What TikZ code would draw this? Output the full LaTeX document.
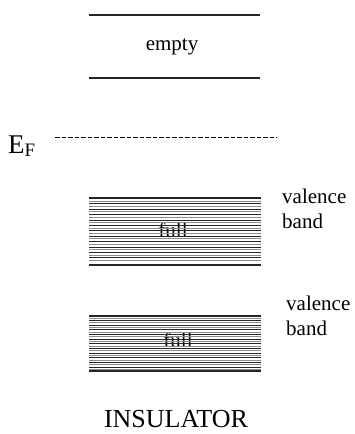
\documentclass[tikz,border=0pt]{standalone}
\usepackage{fontspec}
\setmainfont{Liberation Serif}
\begin{document}
\begin{tikzpicture}[x=1pt,y=-1pt,
  bandedge/.style={line width=2pt,black!85},
  hatchA/.style={line width=0.75pt,black!85},
  hatchB/.style={line width=0.75pt,black!45},
  fermi/.style={line width=0.6pt,dash pattern=on 4.5pt off 2pt},
  lbl/.style={inner sep=0pt,anchor=base,font=\fontsize{21}{25}\selectfont},
  side/.style={inner sep=0pt,anchor=base west,align=left,font=\fontsize{21}{25}\selectfont}]
\useasboundingbox (0,0) rectangle (355,434);
% empty band
\draw[bandedge] (89,15) coordinate (e1) -- (260,15) coordinate (e2);
\draw[bandedge] (89,78) coordinate (e3) -- (260,78) coordinate (e4);
\node[lbl] (empty) at (172,50) {empty};
% Fermi level
\node[inner sep=0pt,anchor=base west,font=\fontsize{27}{30}\selectfont] (ef) at (8,153) {E\textsubscript{\fontsize{19}{20}\selectfont F}};
\coordinate (fa) at (55,137);
\coordinate (fb) at (277,137);
\draw[fermi] (fa) -- (fb);
% full band 1
\node[lbl] (full1) at (173,237) {full};
\foreach \i in {0,...,22}{
  \pgfmathsetmacro\yy{201+\i*2.7}
  \ifodd\i \draw[hatchA] (89,\yy) -- (261,\yy); \else \draw[hatchB] (89,\yy) -- (261,\yy); \fi
}
\draw[bandedge] (89,198) coordinate (b1) -- (261,198) coordinate (b2);
\draw[bandedge] (89,265) coordinate (b3) -- (261,265) coordinate (b4);
\node[side] (vb1) at (282,228) {valence\\band};
% full band 2
\node[lbl] (full2) at (178,347) {full};
\foreach \i in {0,...,22}{
  \pgfmathsetmacro\yy{318+\i*2.33}
  \ifodd\i \draw[hatchA] (89,\yy) -- (261,\yy); \else \draw[hatchB] (89,\yy) -- (261,\yy); \fi
}
\draw[bandedge] (89,315.5) coordinate (c1) -- (261,315.5) coordinate (c2);
\draw[bandedge] (89,370.5) coordinate (c3) -- (261,370.5) coordinate (c4);
\node[side] (vb2) at (286,335) {valence\\band};
% title
\node[inner sep=0pt,anchor=base,font=\fontsize{26}{28}\selectfont] (title) at (176,427) {INSULATOR};
\end{tikzpicture}
\end{document}
